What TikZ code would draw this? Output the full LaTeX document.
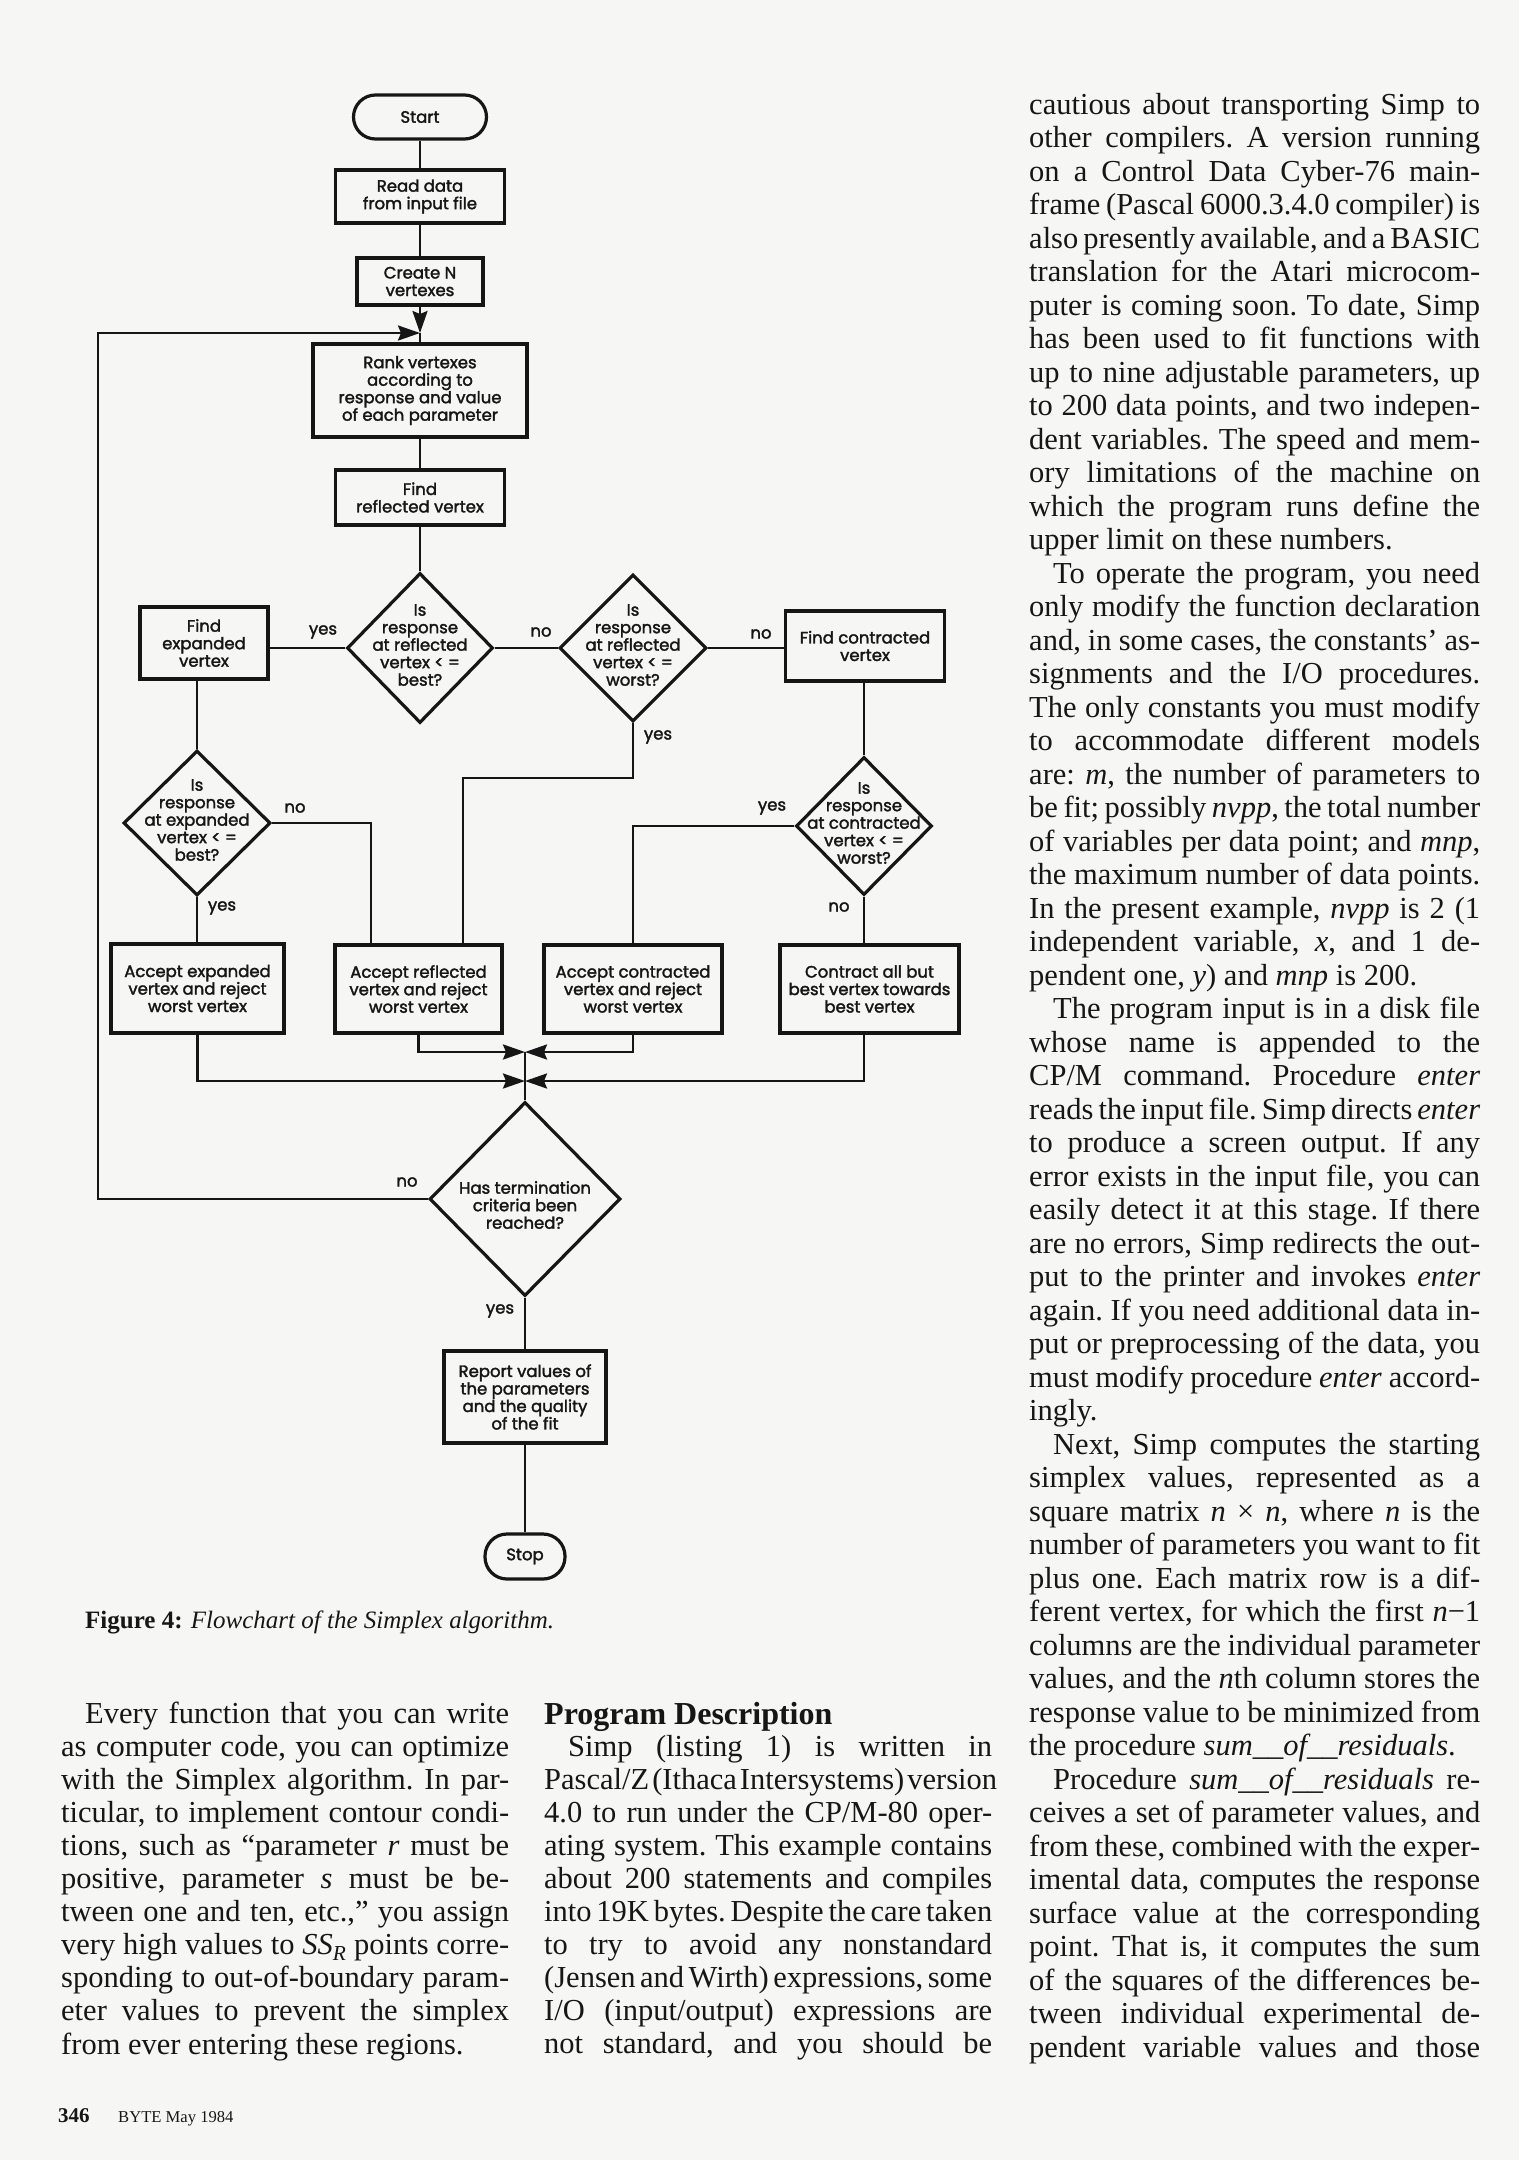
\documentclass[tikz,border=0pt]{standalone}
\usepackage{fontspec}
\setmainfont{Liberation Serif}
\newfontfamily\fcfam{Poppins}[FakeBold=2]
\usetikzlibrary{shapes.geometric,arrows.meta,calc}
\definecolor{paper}{RGB}{246,246,244}
\definecolor{ink}{RGB}{22,22,22}
\newcommand\fcfont{\fcfam\fontsize{16.5}{17.5}\selectfont}
\newlength\cw
\newcommand\colfont[1]{\fontsize{30.5}{#1}\selectfont\frenchspacing\spaceskip=.25em plus .6em minus .15em\relax}
\newcommand\JLn[1]{\hbox to\cw{#1}}
\newcommand\JIn[1]{\hbox to\cw{\hskip24pt #1}}
\newcommand\NLn[1]{\hbox{#1}}
\begin{document}
\begin{tikzpicture}[x=1pt,y=-1pt,
  proc/.style={draw=ink, line width=3.2pt, rectangle, inner sep=0pt, align=center, font=\fcfont, text=ink},
  term/.style={proc, rounded corners=22pt},
  dia/.style={draw=ink, diamond, line width=3.2pt, inner sep=0pt},
  fct/.style={inner sep=0pt, align=center, font=\fcfont, text=ink},
  lbl/.style={inner sep=0pt, font=\fcfont, text=ink},
  conn/.style={draw=ink, line width=2.6pt},
  arr/.style={conn, -{Stealth[length=22pt,width=15pt,inset=3pt]}},
  coltext/.style={inner sep=0pt, anchor=base west, text=ink}]
\fill[paper] (0,0) rectangle (1519,2160);
\useasboundingbox (0,0) rectangle (1519,2160);

% ---------- flowchart nodes ----------
\node[term, minimum width=133pt, minimum height=44pt] (start) at (420,117) {Start};
\node[proc, minimum width=169pt, minimum height=53pt] (read) at (420,196.5) {Read data\\from input file};
\node[proc, minimum width=126pt, minimum height=47pt] (create) at (420,281.5) {Create N\\vertexes};
\coordinate (m1) at (420,333);
\node[proc, minimum width=214pt, minimum height=93pt] (rank) at (420,390.5) {Rank vertexes\\according to\\response and value\\of each parameter};
\node[proc, minimum width=169pt, minimum height=55pt] (frefl) at (420,497.5) {Find\\reflected vertex};

\node[dia, minimum width=146pt, minimum height=150pt] (d1) at (420,648) {};
\node[fct] (d1t) at (420,645) {Is\\response\\at reflected\\vertex < =\\best?};
\node[dia, minimum width=147pt, minimum height=147pt] (d2) at (633,648) {};
\node[fct] (d2t) at (633,645) {Is\\response\\at reflected\\vertex < =\\worst?};
\node[proc, minimum width=128pt, minimum height=72pt] (fexp) at (204,643) {Find\\expanded\\vertex};
\node[proc, minimum width=159pt, minimum height=70pt] (fcon) at (865,646) {Find contracted\\vertex};

\node[dia, minimum width=147pt, minimum height=145pt] (d3) at (197,823) {};
\node[fct] (d3t) at (197,820) {Is\\response\\at expanded\\vertex < =\\best?};
\node[dia, minimum width=136pt, minimum height=138pt] (d4) at (864,826) {};
\node[fct] (d4t) at (864,823) {Is\\response\\at contracted\\vertex < =\\worst?};

\node[proc, minimum width=173pt, minimum height=89pt] (accexp) at (197.5,988.5) {Accept expanded\\vertex and reject\\worst vertex};
\node[proc, minimum width=167pt, minimum height=88pt] (accrefl) at (418.5,989) {Accept reflected\\vertex and reject\\worst vertex};
\node[proc, minimum width=178pt, minimum height=88pt] (acccon) at (633,989) {Accept contracted\\vertex and reject\\worst vertex};
\node[proc, minimum width=179pt, minimum height=88pt] (contract) at (869.5,989) {Contract all but\\best vertex towards\\best vertex};

\coordinate (m2) at (525,1052);
\coordinate (m3) at (525,1081);
\node[dia, minimum width=191pt, minimum height=194pt] (d5) at (525,1199) {};
\node[fct] (d5t) at (525,1205) {Has termination\\criteria been\\reached?};
\node[proc, minimum width=162pt, minimum height=92pt] (report) at (525,1397) {Report values of\\the parameters\\and the quality\\of the fit};
\node[term, minimum width=80pt, minimum height=45pt] (stop) at (525,1556.5) {Stop};
\coordinate (lp) at (98,1199);

% ---------- connectors ----------
\draw[conn] (start) -- (read);
\draw[conn] (read) -- (create);
\draw[arr] (create) -- (m1);
\draw[conn] (m1) -- (rank);
\draw[conn] (rank) -- (frefl);
\draw[conn] (frefl) -- (d1);
\draw[conn] (d1.west) -- (d1.west -| fexp.east);
\draw[conn] (d1.east) -- (d2.west);
\draw[conn] (d2.east) -- (d2.east -| fcon.west);
\draw[conn] (d2.south) -- ++(0,55) -| ($(accrefl.north)+(44.5,0)$);
\draw[conn] (fexp.south -| d3.north) -- (d3.north);
\draw[conn] (d3.east) -| ($(accrefl.north)+(-47.5,0)$);
\draw[conn] (d3.south) -- (d3.south |- accexp.north);
\draw[conn] (fcon.south -| d4.north) -- (d4.north);
\draw[conn] (d4.west) -| (acccon.north);
\draw[conn] (d4.south) -- (d4.south |- contract.north);
\draw[arr] (accrefl.south) |- (m2);
\draw[arr] (acccon.south) |- (m2);
\draw[arr] (accexp.south) |- (m3);
\draw[arr] (contract.south -| d4.south) |- (m3);
\draw[conn] (m2) -- (d5.north);
\draw[arr] (d5.west) -- (lp) |- (m1);
\draw[conn] (d5.south) -- (report.north);
\draw[conn] (report) -- (stop);

% ---------- branch labels ----------
\node[lbl] (l1) at (323,632) {yes};
\node[lbl] (l2) at (541,632) {no};
\node[lbl] (l3) at (761,634) {no};
\node[lbl] (l4) at (658,737) {yes};
\node[lbl] (l5) at (295,808) {no};
\node[lbl] (l6) at (772,808) {yes};
\node[lbl] (l7) at (222,908) {yes};
\node[lbl] (l8) at (839,907) {no};
\node[lbl] (l9) at (407,1182) {no};
\node[lbl] (l10) at (500,1311) {yes};

% ---------- caption ----------
\node[coltext] (cap) at (85,1628) {\fontsize{25}{30}\selectfont\textbf{Figure 4:} \textit{Flowchart of the Simplex algorithm.}};

% ---------- right column ----------
\node[coltext] (rcol) at (1029,114) {\setlength\cw{451pt}\begin{minipage}[t]{\cw}\colfont{33.5}%
\JLn{cautious about transporting Simp to}
\JLn{other compilers. A version running}
\JLn{on a Control Data Cyber-76 main-}
\JLn{frame (Pascal 6000.3.4.0 compiler) is}
\JLn{also presently available, and a BASIC}
\JLn{translation for the Atari microcom-}
\JLn{puter is coming soon. To date, Simp}
\JLn{has been used to fit functions with}
\JLn{up to nine adjustable parameters, up}
\JLn{to 200 data points, and two indepen-}
\JLn{dent variables. The speed and mem-}
\JLn{ory limitations of the machine on}
\JLn{which the program runs define the}
\NLn{upper limit on these numbers.}
\JIn{To operate the program, you need}
\JLn{only modify the function declaration}
\JLn{and, in some cases, the constants’ as-}
\JLn{signments and the I/O procedures.}
\JLn{The only constants you must modify}
\JLn{to accommodate different models}
\JLn{are: \textit{m}, the number of parameters to}
\JLn{be fit; possibly \textit{nvpp}, the total number}
\JLn{of variables per data point; and \textit{mnp},}
\JLn{the maximum number of data points.}
\JLn{In the present example, \textit{nvpp} is 2 (1}
\JLn{independent variable, \textit{x}, and 1 de-}
\NLn{pendent one, \textit{y}) and \textit{mnp} is 200.}
\JIn{The program input is in a disk file}
\JLn{whose name is appended to the}
\JLn{CP/M command. Procedure \textit{enter}}
\JLn{reads the input file. Simp directs \textit{enter}}
\JLn{to produce a screen output. If any}
\JLn{error exists in the input file, you can}
\JLn{easily detect it at this stage. If there}
\JLn{are no errors, Simp redirects the out-}
\JLn{put to the printer and invokes \textit{enter}}
\JLn{again. If you need additional data in-}
\JLn{put or preprocessing of the data, you}
\JLn{must modify procedure \textit{enter} accord-}
\NLn{ingly.}
\JIn{Next, Simp computes the starting}
\JLn{simplex values, represented as a}
\JLn{square matrix \textit{n} × \textit{n}, where \textit{n} is the}
\JLn{number of parameters you want to fit}
\JLn{plus one. Each matrix row is a dif-}
\JLn{ferent vertex, for which the first \textit{n}−1}
\JLn{columns are the individual parameter}
\JLn{values, and the \textit{n}th column stores the}
\JLn{response value to be minimized from}
\NLn{the procedure \textit{sum\_\_of\_\_residuals}.}
\JIn{Procedure \textit{sum\_\_of\_\_residuals} re-}
\JLn{ceives a set of parameter values, and}
\JLn{from these, combined with the exper-}
\JLn{imental data, computes the response}
\JLn{surface value at the corresponding}
\JLn{point. That is, it computes the sum}
\JLn{of the squares of the differences be-}
\JLn{tween individual experimental de-}
\JLn{pendent variable values and those}
\end{minipage}};

% ---------- bottom left column ----------
\node[coltext] (lcol) at (61,1723) {\setlength\cw{448pt}\begin{minipage}[t]{\cw}\colfont{33.1}%
\JIn{Every function that you can write}
\JLn{as computer code, you can optimize}
\JLn{with the Simplex algorithm. In par-}
\JLn{ticular, to implement contour condi-}
\JLn{tions, such as “parameter \textit{r} must be}
\JLn{positive, parameter \textit{s} must be be-}
\JLn{tween one and ten, etc.,” you assign}
\JLn{very high values to \textit{SS}\textsubscript{\textit{R}} points corre-}
\JLn{sponding to out-of-boundary param-}
\JLn{eter values to prevent the simplex}
\NLn{from ever entering these regions.}
\end{minipage}};

% ---------- bottom middle column ----------
\node[coltext] (mhead) at (544,1724) {\fontsize{32}{36}\selectfont\bfseries Program Description};
\node[coltext] (mcol) at (544,1756) {\setlength\cw{448pt}\begin{minipage}[t]{\cw}\colfont{33.1}%
\JIn{Simp (listing 1) is written in}
\JLn{Pascal/Z (Ithaca Intersystems) version}
\JLn{4.0 to run under the CP/M-80 oper-}
\JLn{ating system. This example contains}
\JLn{about 200 statements and compiles}
\JLn{into 19K bytes. Despite the care taken}
\JLn{to try to avoid any nonstandard}
\JLn{(Jensen and Wirth) expressions, some}
\JLn{I/O (input/output) expressions are}
\JLn{not standard, and you should be}
\end{minipage}};

% ---------- footer ----------
\node[coltext] (pnum) at (58,2122) {\fontsize{21}{24}\selectfont\bfseries 346};
\node[coltext] (mag) at (118,2122) {\fontsize{16.6}{20}\selectfont BYTE May 1984};
\end{tikzpicture}
\end{document}
